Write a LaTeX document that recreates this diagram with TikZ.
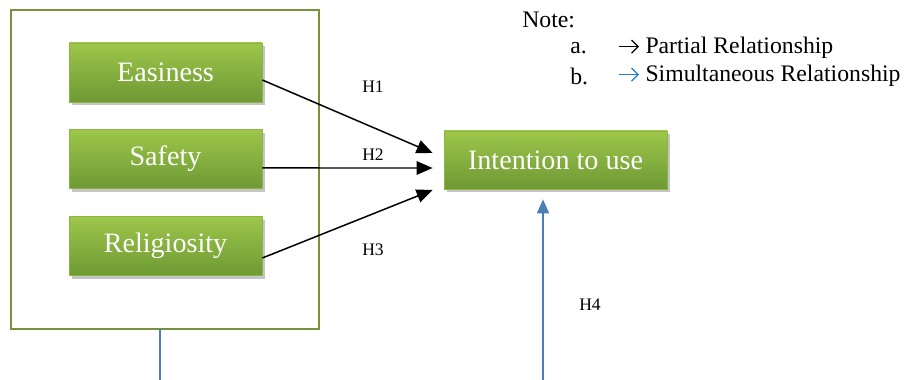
\documentclass[tikz,border=0pt]{standalone}
\usepackage{fontspec}
\setmainfont{Liberation Serif}
\usetikzlibrary{positioning,arrows.meta,calc,shadows}
\definecolor{boxtop}{HTML}{9DC64A}
\definecolor{boxbot}{HTML}{6E9934}
\definecolor{boxline}{HTML}{8DB543}
\definecolor{frameline}{HTML}{76923C}
\definecolor{simblue}{HTML}{4A7EBB}
\definecolor{noteblue}{HTML}{1F7FD8}
% small chevron arrow used in the note lines
\newcommand{\notearrow}[1]{\tikz[baseline=-0.65ex]\draw[#1, line width=0.7pt,
  -{Straight Barb[length=1.3mm, width=2.6mm]}] (0,0) -- (0.4,0);}

\begin{document}
\begin{tikzpicture}[
  font=\fontsize{13.5}{15}\selectfont,
  var/.style={rectangle, draw=boxline, line width=0.4pt, top color=boxtop, bottom color=boxbot,
              text=white, minimum width=3.86cm, minimum height=1.18cm, inner sep=0pt,
              font=\fontsize{16}{18}\selectfont,
              drop shadow={shadow xshift=0.5mm, shadow yshift=-0.7mm, fill=black!45, opacity=0.5}},
  pe/.style={-{Triangle[length=3.2mm, width=2.7mm]}, line width=0.85pt, black},
  se/.style={line width=1pt, simblue},
  hl/.style={font=\fontsize{10}{12}\selectfont, inner sep=1pt}
]
\useasboundingbox (0,0) rectangle (18.16,-7.6);
% ----- independent variables in their frame -----
\draw[frameline, line width=0.8pt] (0.22,-0.2) rectangle (6.38,-6.58);
\coordinate (fb) at (3.2,-6.58);
\node[var] (easy)  at (3.31,-1.45) {Easiness};
\node[var] (safe)  at (3.31,-3.18) {Safety};
\node[var] (relig) at (3.31,-4.92) {Religiosity};
% ----- dependent variable -----
\node[var, minimum width=4.46cm, minimum height=1.16cm] (intent) at (11.11,-3.2) {Intention to use};
% ----- partial relationships -----
\foreach \a/\sa/\sb in {easy/-0.15/0.14, safe/-0.18/-0.16, relig/-0.24/-0.6}{
  \draw[pe] ([yshift=\sa cm]\a.east) -- ([xshift=-0.22cm, yshift=\sb cm]intent.west);}
\node[hl] (h1) at (7.46,-1.74) {H1};
\node[hl] (h2) at (7.46,-3.1)  {H2};
\node[hl] (h3) at (7.46,-5.0)  {H3};
% ----- simultaneous relationship -----
\coordinate (sl) at (3.2,-7.6);
\coordinate (sr) at (10.86,-7.6);
\draw[se] (fb) -- (sl);
\draw[se, -{Triangle[length=2.8mm, width=2.4mm]}] (sr) -- ([xshift=-0.25cm, yshift=-0.2cm]intent.south);
\node[hl] (h4) at (11.8,-6.1) {H4};
% ----- note -----
\node[anchor=west, inner sep=0pt] (note) at (10.44,-0.4) {Note:};
\node[anchor=west, inner sep=0pt] (na) at (11.4,-0.96) {a.};
\node[anchor=west, inner sep=0pt] (nb) at (11.4,-1.52) {b.};
\node[anchor=west, inner sep=0pt] (pa) at (12.36,-0.96) {\notearrow{black}~Partial Relationship};
\node[anchor=west, inner sep=0pt] (pb) at (12.36,-1.52) {\notearrow{noteblue}~Simultaneous Relationship};
\end{tikzpicture}
\end{document}
